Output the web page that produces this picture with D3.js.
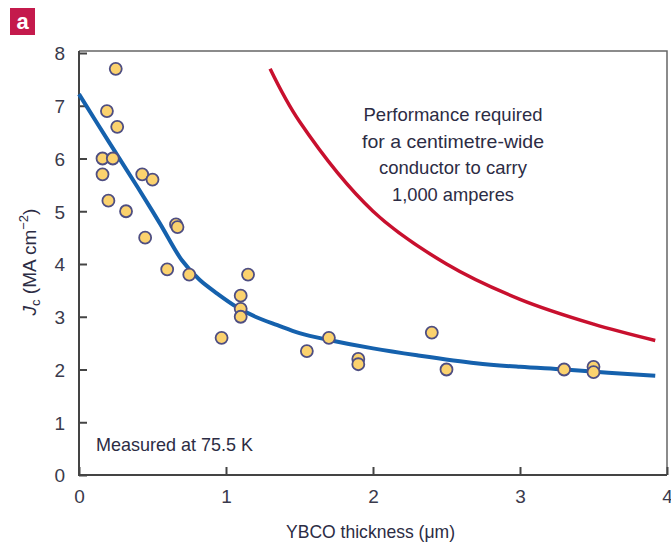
<!DOCTYPE html>
<html>
<head>
<meta charset="utf-8">
<script src="https://cdn.jsdelivr.net/npm/d3@7"></script>
<style>
  html, body { margin: 0; padding: 0; background: #fff; }
  svg { display: block; font-family: "Liberation Sans", Arial, sans-serif; }
  .tick text { fill: #3a3a4c; font-size: 19px; }
</style>
</head>
<body>
<svg id="chart" width="671" height="549"></svg>
<script>
// mesures (épaisseur en µm, Jc en MA cm-2)
const thickness = [0.25, 0.19, 0.26, 0.16, 0.23, 0.16, 0.2, 0.32, 0.43, 0.5, 0.45, 0.66, 0.67, 0.6, 0.75,
  0.97, 1.1, 1.1, 1.1, 1.15, 1.55, 1.7, 1.9, 1.9, 2.4, 2.5, 3.3, 3.5, 3.5];
const jc = [7.7, 6.9, 6.6, 6.0, 6.0, 5.7, 5.2, 5.0, 5.7, 5.6, 4.5, 4.75, 4.7, 3.9, 3.8,
  2.6, 3.4, 3.15, 3.0, 3.8, 2.35, 2.6, 2.2, 2.1, 2.7, 2.0, 2.0, 2.05, 1.95];

// courbe ajustée (bleue)
const fitX = [0, 0.2, 0.4, 0.55, 0.7, 0.82, 0.94, 1.07, 1.2, 1.35, 1.5, 1.7, 2.0, 2.3, 2.7, 3.0, 3.3, 3.6, 3.92];
const fitY = [7.22, 6.33, 5.45, 4.77, 4.07, 3.7, 3.44, 3.19, 3.0, 2.84, 2.69, 2.56, 2.4, 2.27, 2.12, 2.05, 2.0, 1.94, 1.88];

// performance requise (rouge)
const reqX = [1.3, 1.5, 2.0, 2.5, 3.0, 3.5, 3.92];
const reqY = [7.7, 6.7, 5.0, 4.0, 3.33, 2.86, 2.55];

const xTicks = [0, 1, 2, 3, 4];
const yTicks = [0, 1, 2, 3, 4, 5, 6, 7, 8];
const noteLines = ["Performance required", "for a centimetre-wide", "conductor to carry", "1,000 amperes"];
const noteWidths = [179, 182, 148, 122];

const svg = d3.select("#chart");
const mLeft = 79, mRight = 667, mTop = 53, mBottom = 475;

const x = d3.scaleLinear().domain([0, 4]).range([mLeft, mRight]);
const y = d3.scaleLinear().domain([0, 8]).range([mBottom, mTop]);

// panneau "a"
svg.append("rect").attr("x", 10).attr("y", 8).attr("width", 25).attr("height", 27).attr("fill", "#c41a4c");
svg.append("text").attr("x", 22.5).attr("y", 29).attr("text-anchor", "middle")
  .attr("fill", "#fff").attr("font-size", 22).attr("font-weight", "bold").text("a");

// cadre haut et droit
svg.append("path")
  .attr("d", `M${mLeft},${mTop - 2}H${mRight}V${mBottom}`)
  .attr("fill", "none").attr("stroke", "#666").attr("stroke-width", 1.5);

// axes
const xAxis = svg.append("g").attr("transform", `translate(0,${mBottom})`)
  .call(d3.axisBottom(x).tickValues(xTicks).tickFormat(d3.format("d"))
    .tickSize(-8).tickPadding(12).tickSizeOuter(0));
const yAxis = svg.append("g").attr("transform", `translate(${mLeft},0)`)
  .call(d3.axisLeft(y).tickValues(yTicks).tickFormat(d3.format("d"))
    .tickSize(-8).tickPadding(14).tickSizeOuter(0));

[xAxis, yAxis].forEach(g => {
  g.select(".domain").attr("stroke", "#444").attr("stroke-width", 2);
  g.selectAll(".tick line").attr("stroke", "#444").attr("stroke-width", 2);
});
xAxis.select(".domain").attr("d", `M${mLeft - 1},0H${mRight}`);
yAxis.select(".domain").attr("d", `M0,${mTop - 2}V${mBottom + 1}`);
xAxis.selectAll(".tick text").attr("dy", "0.85em");
yAxis.selectAll(".tick text").attr("dy", "0.36em");

const line = d3.line().curve(d3.curveCatmullRom.alpha(0.5));

svg.append("path")
  .attr("d", line(reqX.map((d, i) => [x(d), y(reqY[i])])))
  .attr("fill", "none").attr("stroke", "#c8102e").attr("stroke-width", 3.5);

svg.append("path")
  .attr("d", line(fitX.map((d, i) => [x(d), y(fitY[i])])))
  .attr("fill", "none").attr("stroke", "#1561ad").attr("stroke-width", 4);

svg.append("g").selectAll("circle")
  .data(thickness.map((d, i) => [d, jc[i]]))
  .join("circle")
  .attr("cx", d => x(d[0])).attr("cy", d => y(d[1])).attr("r", 6)
  .attr("fill", "#fbd26e").attr("stroke", "#4e4e82").attr("stroke-width", 1.8);

// textes
svg.append("text").attr("x", 96).attr("y", 451).attr("font-size", 19).attr("fill", "#2c2c44")
  .attr("textLength", 157).attr("lengthAdjust", "spacingAndGlyphs")
  .text("Measured at 75.5 K");

svg.append("g").selectAll("text")
  .data(noteLines)
  .join("text")
  .attr("x", (d, i) => 453 - noteWidths[i] / 2).attr("y", (d, i) => 121 + i * 26.6)
  .attr("font-size", 19).attr("fill", "#2c2c44")
  .attr("textLength", (d, i) => noteWidths[i]).attr("lengthAdjust", "spacingAndGlyphs")
  .text(d => d);

svg.append("text").attr("x", 286).attr("y", 538)
  .attr("font-size", 19).attr("fill", "#2c2c44")
  .attr("textLength", 169).attr("lengthAdjust", "spacingAndGlyphs")
  .text("YBCO thickness (μm)");

const yl = svg.append("text").attr("transform", "translate(36,262) rotate(-90)")
  .attr("text-anchor", "middle").attr("font-size", 19).attr("fill", "#2c2c44");
yl.append("tspan").attr("font-style", "italic").text("J");
yl.append("tspan").attr("font-size", 13).attr("dy", 4).text("c");
yl.append("tspan").attr("dy", -4).text(" (MA cm");
yl.append("tspan").attr("font-size", 13).attr("dy", -8).text("−2");
yl.append("tspan").attr("dy", 8).text(")");
</script>
</body>
</html>
